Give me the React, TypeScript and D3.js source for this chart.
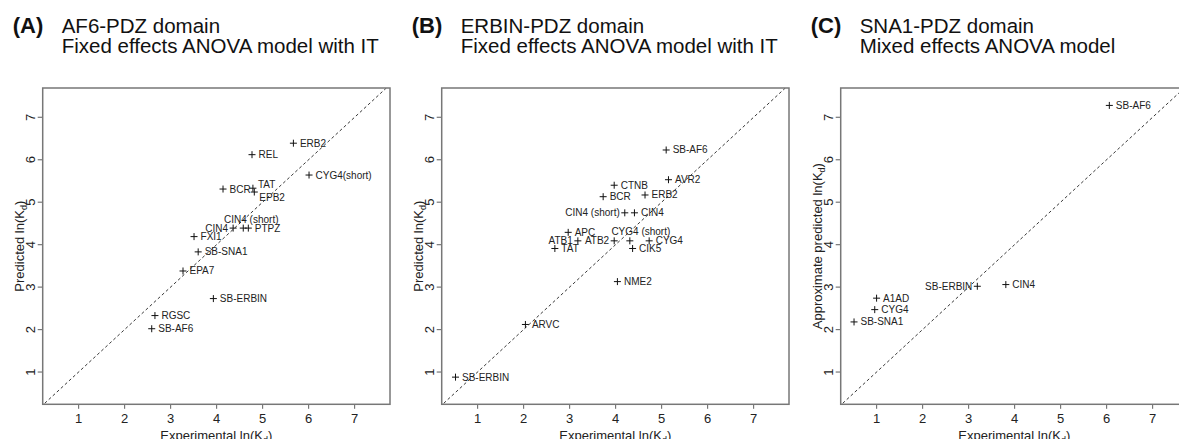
import React from 'react';
import * as d3 from 'd3';

// panel A: AF6-PDZ domain
const namesA = ['ERB2', 'REL', 'CYG4(short)', 'BCR', 'TAT', 'EPB2', 'CIN4 (short)', 'CIN4', 'PTPZ', 'FXI1', 'SB-SNA1', 'EPA7', 'SB-ERBIN', 'RGSC', 'SB-AF6'];
const expA = [5.67, 4.77, 6.01, 4.14, 4.79, 4.82, 4.58, 4.36, 4.69, 3.51, 3.6, 3.27, 3.93, 2.66, 2.59];
const predA = [6.39, 6.12, 5.64, 5.31, 5.33, 5.24, 4.39, 4.39, 4.39, 4.19, 3.83, 3.38, 2.73, 2.33, 2.02];
const placeA = ['r', 'r', 'r', 'r', 'tr', 'br', 'a8', 'l', 'r', 'r', 'r', 'r', 'r', 'r', 'r'];

// panel B: ERBIN-PDZ domain
const namesB = ['SB-AF6', 'AVR2', 'CTNB', 'BCR', 'ERB2', 'CIN4 (short)', 'CIN4', 'APC', 'ATB1', 'ATB2', 'CYG4 (short)', 'CYG4', 'TAT', 'CIK5', 'NME2', 'ARVC', 'SB-ERBIN'];
const expB = [5.1, 5.15, 3.97, 3.73, 4.64, 4.2, 4.41, 2.97, 3.18, 3.97, 4.31, 4.73, 2.68, 4.37, 4.04, 2.04, 0.52];
const predB = [6.23, 5.53, 5.4, 5.13, 5.17, 4.75, 4.75, 4.29, 4.09, 4.09, 4.09, 4.09, 3.91, 3.91, 3.13, 2.12, 0.88];
const placeB = ['r', 'r', 'r', 'r', 'r', 'l', 'r', 'r', 'l', 'l', 'a11', 'r', 'r', 'r', 'r', 'r', 'r'];

// panel C: SNA1-PDZ domain
const namesC = ['SB-AF6', 'CIN4', 'SB-ERBIN', 'A1AD', 'CYG4', 'SB-SNA1'];
const expC = [6.06, 3.81, 3.19, 1.0, 0.96, 0.51];
const predC = [7.28, 3.06, 3.02, 2.74, 2.47, 2.18];
const placeC = ['r', 'r', 'l', 'r', 'r', 'r'];

const tickValues = [1, 2, 3, 4, 5, 6, 7];

const FONT = 'Liberation Sans, Arial, Helvetica, sans-serif';
const BOX_W = 347.3;
const TOP = 88;
const BOTTOM = 404.3;

type PanelProps = {
  left: number;
  letter: string;
  line1: string;
  line2: string;
  yTitle: string;
  names: string[];
  xs: number[];
  ys: number[];
  place: string[];
  id: string;
};

// where a label goes relative to its "+"
const labelAttrs = (p: string) => {
  if (p === 'l') return { dx: -5, dy: 0, anchor: 'end' };
  if (p === 'tr') return { dx: 5, dy: -4, anchor: 'start' };
  if (p === 'br') return { dx: 5, dy: 5, anchor: 'start' };
  if (p.startsWith('a')) return { dx: +p.slice(1), dy: -9, anchor: 'middle' };
  return { dx: 6.5, dy: 0, anchor: 'start' };
};

const Panel = ({ left, letter, line1, line2, yTitle, names, xs, ys, place, id }: PanelProps) => {
  const x = d3.scaleLinear().domain([0.22, 7.77]).range([left, left + BOX_W]);
  const y = d3.scaleLinear().domain([0.24, 7.69]).range([BOTTOM, TOP]);
  const diag = d3.line<number>().x((v) => x(v)).y((v) => y(v))([0, 8]) || '';
  const axisColor = '#777';

  return (
    <g fontFamily={FONT}>
      {/* title */}
      <text x={left - 30} y={33} fontSize={22} fontWeight="bold" fill="#111">{`(${letter})`}</text>
      <text x={left + 19} y={33} fontSize={20.5} fill="#111">{line1}</text>
      <text x={left + 19} y={53} fontSize={20.5} fill="#111">{line2}</text>

      <defs>
        <clipPath id={`clip-${id}`}>
          <rect x={left} y={TOP} width={BOX_W} height={BOTTOM - TOP} />
        </clipPath>
      </defs>

      {/* y = x reference line */}
      <path d={diag} fill="none" stroke="#222" strokeWidth={0.9} strokeDasharray="3,2.5" clipPath={`url(#clip-${id})`} />

      {/* box */}
      <rect x={left} y={TOP} width={BOX_W} height={BOTTOM - TOP} fill="none" stroke={axisColor} strokeWidth={1.5} />

      {/* x axis ticks */}
      {tickValues.map((t) => (
        <g key={`x${t}`}>
          <line x1={x(t)} x2={x(t)} y1={BOTTOM} y2={BOTTOM + 4.5} stroke={axisColor} strokeWidth={1.2} />
          <text x={x(t)} y={BOTTOM + 19} fontSize={13} textAnchor="middle" fill="#222">{t}</text>
        </g>
      ))}
      {/* y axis ticks, labels turned like R's default */}
      {tickValues.map((t) => (
        <g key={`y${t}`}>
          <line x1={left - 5} x2={left} y1={y(t)} y2={y(t)} stroke={axisColor} strokeWidth={1.2} />
          <text transform={`translate(${left - 7.5}, ${y(t)}) rotate(-90)`} fontSize={13} textAnchor="middle" fill="#222">{t}</text>
        </g>
      ))}

      {/* axis titles */}
      <text x={left + BOX_W / 2} y={439.5} fontSize={13} textAnchor="middle" fill="#222">
        Experimental ln(K<tspan fontSize={9} dy={3}>d</tspan><tspan dy={-3}>)</tspan>
      </text>
      <text transform={`translate(${left - 19}, ${(TOP + BOTTOM) / 2}) rotate(-90)`} fontSize={13} textAnchor="middle" fill="#222">
        {yTitle} ln(K<tspan fontSize={9} dy={3}>d</tspan><tspan dy={-3}>)</tspan>
      </text>

      {/* points */}
      {names.map((n, i) => {
        const px = x(xs[i]);
        const py = y(ys[i]);
        const la = labelAttrs(place[i]);
        return (
          <g key={n + i}>
            <path d={`M${px - 3.5},${py}H${px + 3.5}M${px},${py - 3.5}V${py + 3.5}`} stroke="#111" strokeWidth={1} />
            <text x={px + la.dx} y={py + la.dy} dy="0.35em" fontSize={10} textAnchor={la.anchor} fill="#222">{n}</text>
          </g>
        );
      })}
    </g>
  );
};

export default function App() {
  return (
    <>
      <style>{'body{margin:0}'}</style>
      <svg width={1179} height={439} style={{ display: 'block', background: '#fff' }}>
        <Panel id="a" left={42.7} letter="A" line1="AF6-PDZ domain" line2="Fixed effects ANOVA model with IT"
          yTitle="Predicted" names={namesA} xs={expA} ys={predA} place={placeA} />
        <Panel id="b" left={441.7} letter="B" line1="ERBIN-PDZ domain" line2="Fixed effects ANOVA model with IT"
          yTitle="Predicted" names={namesB} xs={expB} ys={predB} place={placeB} />
        <Panel id="c" left={840.7} letter="C" line1="SNA1-PDZ domain" line2="Mixed effects ANOVA model"
          yTitle="Approximate predicted" names={namesC} xs={expC} ys={predC} place={placeC} />
      </svg>
    </>
  );
}
